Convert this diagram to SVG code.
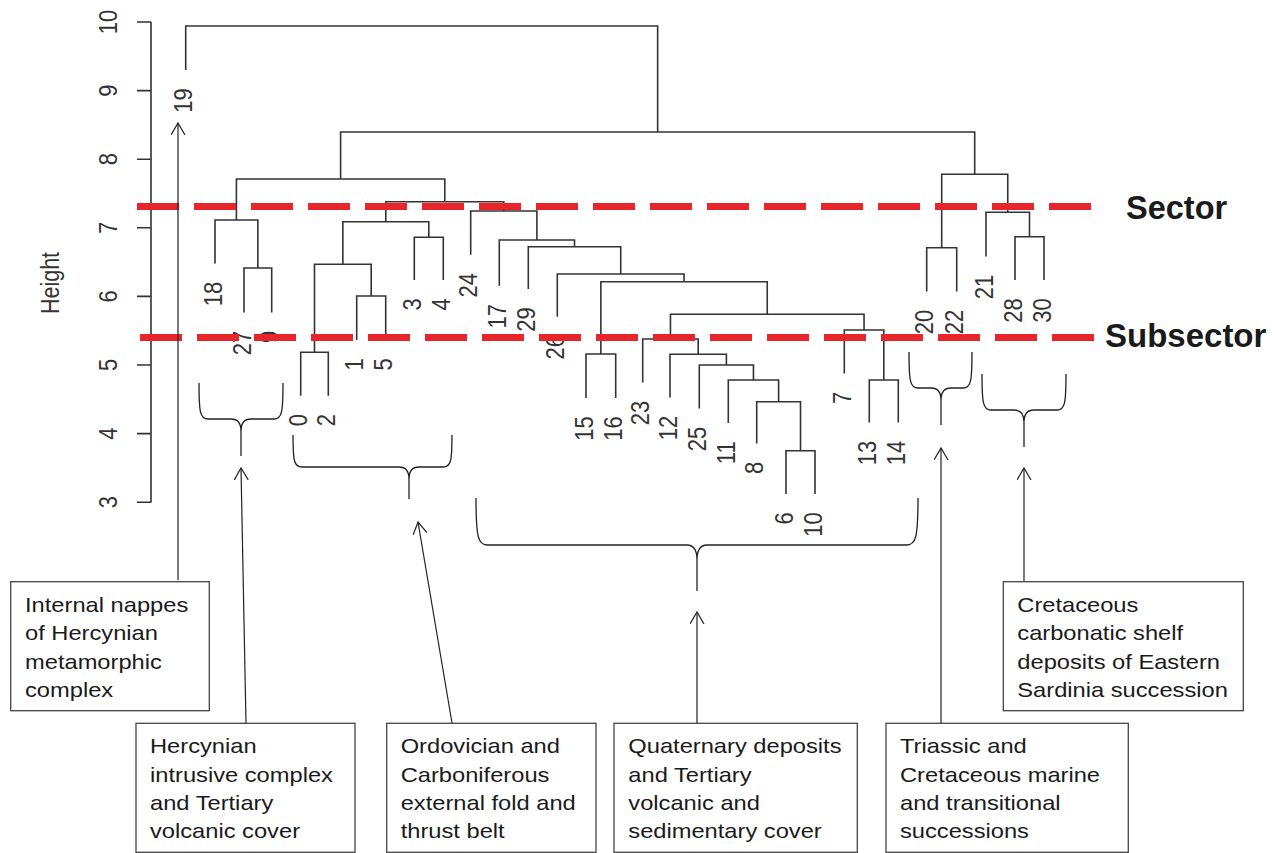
<svg xmlns="http://www.w3.org/2000/svg" width="1275" height="853" viewBox="0 0 1275 853">
<defs>
<style>
.dl{fill:none;stroke:#333;stroke-width:1.6;stroke-linecap:square}
.ax{fill:none;stroke:#333;stroke-width:1.6}
.num{font-family:"Liberation Sans",Arial,sans-serif;font-size:22px;fill:#333}
.leaf{text-anchor:end}
.tick{text-anchor:middle}
.cut{fill:none;stroke:#e8252b;stroke-width:7;stroke-dasharray:42 15}
.lbl{font-family:"Liberation Sans",Arial,sans-serif;font-weight:bold;fill:#1a1a1a}
.box{fill:#fff;stroke:#444;stroke-width:1.3}
.bt{font-family:"Liberation Sans",Arial,sans-serif;font-size:20px;fill:#1a1a1a}
.br{fill:none;stroke:#222;stroke-width:1.3}
.ar{fill:none;stroke:#222;stroke-width:1.2;marker-end:url(#open)}
</style>
<marker id="open" markerUnits="userSpaceOnUse" markerWidth="16" markerHeight="16" refX="12" refY="7" orient="auto">
<path d="M0,0 L12,7 L0,14" fill="none" stroke="#222" stroke-width="1.2"/>
</marker>
</defs>
<rect width="1275" height="853" fill="#fff"/>

<g id="axis">
<path class="ax" d="M151,22 V502.4 M137,22 H151 M137,90.6 H151 M137,159.2 H151 M137,227.8 H151 M137,296.4 H151 M137,365 H151 M137,433.6 H151 M137,502.2 H151"/>
<text class="num tick" transform="translate(117,22) scale(1.2,1) rotate(-90)">10</text>
<text class="num tick" transform="translate(117,90.6) scale(1.2,1) rotate(-90)">9</text>
<text class="num tick" transform="translate(117,159.2) scale(1.2,1) rotate(-90)">8</text>
<text class="num tick" transform="translate(117,227.8) scale(1.2,1) rotate(-90)">7</text>
<text class="num tick" transform="translate(117,296.4) scale(1.2,1) rotate(-90)">6</text>
<text class="num tick" transform="translate(117,365) scale(1.2,1) rotate(-90)">5</text>
<text class="num tick" transform="translate(117,433.6) scale(1.2,1) rotate(-90)">4</text>
<text class="num tick" transform="translate(117,502.2) scale(1.2,1) rotate(-90)">3</text>
<text class="num tick" style="font-size:21.5px" transform="translate(58.5,283) scale(1.2,1) rotate(-90)">Height</text>
</g>

<g id="dendrogram">
<path class="dl" d="
M244,311.7 V268 H271.7 V311.7
M215,262.7 V220 H257.85 V268
M300.7,395 V352.3 H328.3 V395
M356.7,339.3 V296 H385.7 V339.3
M314.5,352.3 V264.3 H371.2 V296
M414.3,279.3 V237.3 H443.3 V279.3
M342.85,264.3 V221.7 H428.8 V237.3
M586,397.3 V354 H615.7 V397.3
M786,493.3 V450.7 H815 V493.3
M756.7,442.7 V401.7 H800.5 V450.7
M728.3,422.3 V380 H778.6 V401.7
M699.3,407.7 V365 H753.45 V380
M670,396.7 V354.3 H726.4 V365
M642.7,381.7 V339 H698.2 V354.3
M869.3,421.7 V380 H898.3 V421.7
M844.3,372.7 V330 H883.8 V380
M670.45,339 V314.3 H864.05 V330
M600.85,354 V281.7 H767.25 V314.3
M557.3,316 V274 H684.05 V281.7
M528.3,288.3 V246.7 H620.7 V274
M499.3,285 V240 H574.5 V246.7
M470.7,254 V211 H536.9 V240
M385.8,221.7 V201.7 H503.8 V211
M236.4,220 V179 H444.8 V201.7
M926.7,290.7 V247.7 H956.7 V290.7
M1015,279.3 V236.7 H1044 V279.3
M986,255.7 V212.3 H1029.5 V236.7
M941.7,247.7 V174.3 H1007.75 V212.3
M340.6,179 V132 H974.7 V174.3
M185.7,69.3 V26 H657.65 V132"/>
</g>

<g id="leaf-labels">
<text class="num leaf" transform="translate(192.2,88.3) scale(1.2,1) rotate(-90)">19</text>
<text class="num leaf" transform="translate(221.5,281.7) scale(1.2,1) rotate(-90)">18</text>
<text class="num leaf" transform="translate(250.5,330.7) scale(1.2,1) rotate(-90)">27</text>
<text class="num leaf" transform="translate(278.2,330.7) scale(1.2,1) rotate(-90)">9</text>
<text class="num leaf" transform="translate(307.2,414) scale(1.2,1) rotate(-90)">0</text>
<text class="num leaf" transform="translate(334.8,414) scale(1.2,1) rotate(-90)">2</text>
<text class="num leaf" transform="translate(363.2,358.3) scale(1.2,1) rotate(-90)">1</text>
<text class="num leaf" transform="translate(392.2,358.3) scale(1.2,1) rotate(-90)">5</text>
<text class="num leaf" transform="translate(420.8,298.3) scale(1.2,1) rotate(-90)">3</text>
<text class="num leaf" transform="translate(449.8,298.3) scale(1.2,1) rotate(-90)">4</text>
<text class="num leaf" transform="translate(477.2,273) scale(1.2,1) rotate(-90)">24</text>
<text class="num leaf" transform="translate(505.8,304) scale(1.2,1) rotate(-90)">17</text>
<text class="num leaf" transform="translate(534.8,307.3) scale(1.2,1) rotate(-90)">29</text>
<text class="num leaf" transform="translate(563.8,335) scale(1.2,1) rotate(-90)">26</text>
<text class="num leaf" transform="translate(592.5,416.3) scale(1.2,1) rotate(-90)">15</text>
<text class="num leaf" transform="translate(622.2,416.3) scale(1.2,1) rotate(-90)">16</text>
<text class="num leaf" transform="translate(649.2,400.7) scale(1.2,1) rotate(-90)">23</text>
<text class="num leaf" transform="translate(676.5,415.7) scale(1.2,1) rotate(-90)">12</text>
<text class="num leaf" transform="translate(705.8,426.7) scale(1.2,1) rotate(-90)">25</text>
<text class="num leaf" transform="translate(734.8,441.3) scale(1.2,1) rotate(-90)">11</text>
<text class="num leaf" transform="translate(763.2,461.7) scale(1.2,1) rotate(-90)">8</text>
<text class="num leaf" transform="translate(792.5,512.3) scale(1.2,1) rotate(-90)">6</text>
<text class="num leaf" transform="translate(821.5,512.3) scale(1.2,1) rotate(-90)">10</text>
<text class="num leaf" transform="translate(850.8,391.7) scale(1.2,1) rotate(-90)">7</text>
<text class="num leaf" transform="translate(875.8,440.7) scale(1.2,1) rotate(-90)">13</text>
<text class="num leaf" transform="translate(904.8,440.7) scale(1.2,1) rotate(-90)">14</text>
<text class="num leaf" transform="translate(933.2,309.7) scale(1.2,1) rotate(-90)">20</text>
<text class="num leaf" transform="translate(963.2,309.7) scale(1.2,1) rotate(-90)">22</text>
<text class="num leaf" transform="translate(992.5,274.7) scale(1.2,1) rotate(-90)">21</text>
<text class="num leaf" transform="translate(1021.5,298.3) scale(1.2,1) rotate(-90)">28</text>
<text class="num leaf" transform="translate(1050.5,298.3) scale(1.2,1) rotate(-90)">30</text>
</g>

<g id="cut-lines">
<line class="cut" x1="137" y1="206.5" x2="1094" y2="206.5"/>
<line class="cut" x1="140" y1="337.5" x2="1097" y2="337.5"/>
<text class="lbl" x="1126" y="219" style="font-size:32.5px">Sector</text>
<text class="lbl" x="1105" y="347" style="font-size:33px">Subsector</text>
</g>

<g id="braces">
<path class="br" d="M199,383 C199,412 200,419 208,419 L231,419 Q241,419 241,431 L241,456 M241,431 Q241,419 251,419 L274,419 C282,419 283,412 283,383"/>
<path class="br" d="M293,435 C293,461 294,467 302,467 L399,467 Q409,467 409,479 L409,499 M409,479 Q409,467 419,467 L443,467 C451,467 452,461 452,435"/>
<path class="br" d="M476,498 C476,538 478,545 488,545 L687,545 Q697,545 697,560 L697,591 M697,560 Q697,545 707,545 L906,545 C916,545 918,538 918,498"/>
<path class="br" d="M909,352 C909,381 910,388 918,388 L931,388 Q941,388 941,400 L941,425 M941,400 Q941,388 951,388 L963,388 C971,388 972,381 972,352"/>
<path class="br" d="M982,374 C982,403 983,410 991,410 L1014,410 Q1024,410 1024,422 L1024,447 M1024,422 Q1024,410 1034,410 L1057,410 C1065,410 1066,403 1066,374"/>
</g>

<g id="connectors">
<line class="ar" x1="178" y1="580" x2="178" y2="123"/>
<line class="ar" x1="246" y1="723" x2="241" y2="468"/>
<line class="ar" x1="452" y1="723" x2="418" y2="522"/>
<line class="ar" x1="697" y1="723" x2="697" y2="612"/>
<line class="ar" x1="941" y1="723" x2="941" y2="448"/>
<line class="ar" x1="1024" y1="581" x2="1024" y2="468"/>
</g>

<g id="box-internal-nappes">
<rect class="box" x="10.7" y="581.7" width="198.6" height="129"/>
<text class="bt" transform="translate(25,611.7) scale(1.185,1)"><tspan x="0" y="0">Internal nappes</tspan><tspan x="0" y="28.5">of Hercynian</tspan><tspan x="0" y="57">metamorphic</tspan><tspan x="0" y="85.5">complex</tspan></text>
</g>
<g id="box-hercynian-intrusive">
<rect class="box" x="136" y="723.3" width="219" height="129"/>
<text class="bt" transform="translate(150,753.3) scale(1.185,1)"><tspan x="0" y="0">Hercynian</tspan><tspan x="0" y="28.3">intrusive complex</tspan><tspan x="0" y="56.6">and Tertiary</tspan><tspan x="0" y="84.9">volcanic cover</tspan></text>
</g>
<g id="box-ordovician">
<rect class="box" x="386.7" y="723.3" width="209.3" height="129"/>
<text class="bt" transform="translate(400.7,753.3) scale(1.185,1)"><tspan x="0" y="0">Ordovician and</tspan><tspan x="0" y="28.3">Carboniferous</tspan><tspan x="0" y="56.6">external fold and</tspan><tspan x="0" y="84.9">thrust belt</tspan></text>
</g>
<g id="box-quaternary">
<rect class="box" x="614" y="723.3" width="243.3" height="129"/>
<text class="bt" transform="translate(628.3,753.3) scale(1.185,1)"><tspan x="0" y="0">Quaternary deposits</tspan><tspan x="0" y="28.3">and Tertiary</tspan><tspan x="0" y="56.6">volcanic and</tspan><tspan x="0" y="84.9">sedimentary cover</tspan></text>
</g>
<g id="box-triassic">
<rect class="box" x="886" y="723.3" width="242.3" height="129"/>
<text class="bt" transform="translate(900,753.3) scale(1.185,1)"><tspan x="0" y="0">Triassic and</tspan><tspan x="0" y="28.3">Cretaceous marine</tspan><tspan x="0" y="56.6">and transitional</tspan><tspan x="0" y="84.9">successions</tspan></text>
</g>
<g id="box-cretaceous">
<rect class="box" x="1003.3" y="581.7" width="240" height="129"/>
<text class="bt" transform="translate(1017.3,611.7) scale(1.185,1)"><tspan x="0" y="0">Cretaceous</tspan><tspan x="0" y="28.5">carbonatic shelf</tspan><tspan x="0" y="57">deposits of Eastern</tspan><tspan x="0" y="85.5">Sardinia succession</tspan></text>
</g>
</svg>
